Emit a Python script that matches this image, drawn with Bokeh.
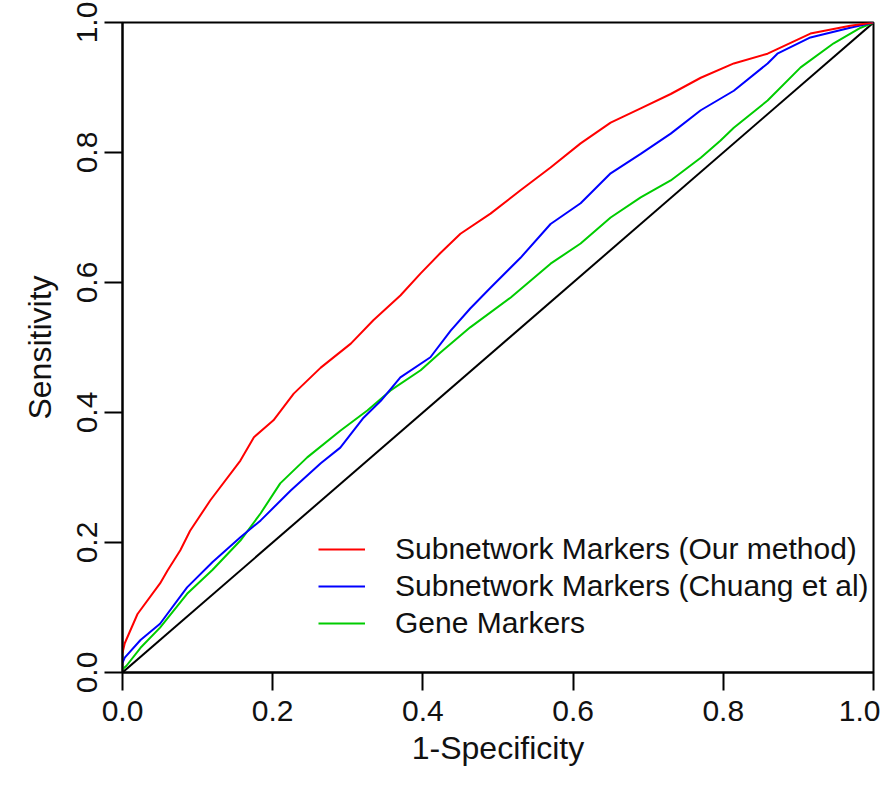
from bokeh.plotting import figure
from bokeh.models import Range1d, FixedTicker, PrintfTickFormatter, Legend, LegendItem
from bokeh.embed import file_html
from bokeh.resources import INLINE

# ROC curves (x = 1-Specificity, y = Sensitivity)
red_fpr = [0, 0.003, 0.02, 0.05, 0.06, 0.077, 0.09, 0.117, 0.157, 0.175, 0.201, 0.228, 0.264, 0.304,
           0.334, 0.37, 0.397, 0.423, 0.45, 0.49, 0.53, 0.57, 0.61, 0.65, 0.69, 0.73, 0.77, 0.814,
           0.859, 0.916, 0.969, 1.0]
red_tpr = [0.03, 0.045, 0.09, 0.137, 0.157, 0.188, 0.218, 0.265, 0.326, 0.362, 0.388, 0.429, 0.469,
           0.506, 0.542, 0.58, 0.614, 0.645, 0.675, 0.706, 0.742, 0.777, 0.814, 0.846, 0.868, 0.89,
           0.915, 0.937, 0.952, 0.983, 0.995, 1.0]

blue_fpr = [0, 0.003, 0.024, 0.05, 0.086, 0.12, 0.157, 0.184, 0.224, 0.264, 0.29, 0.321, 0.344, 0.37,
            0.41, 0.437, 0.463, 0.49, 0.53, 0.57, 0.61, 0.65, 0.69, 0.73, 0.77, 0.814, 0.859, 0.872,
            0.916, 0.969, 1.0]
blue_tpr = [0.015, 0.023, 0.05, 0.075, 0.131, 0.17, 0.208, 0.234, 0.28, 0.322, 0.346, 0.392, 0.418,
            0.454, 0.485, 0.526, 0.56, 0.592, 0.638, 0.69, 0.722, 0.768, 0.798, 0.829, 0.865, 0.895,
            0.937, 0.952, 0.977, 0.992, 1.0]

green_fpr = [0, 0.005, 0.024, 0.05, 0.086, 0.12, 0.157, 0.184, 0.21, 0.246, 0.29, 0.326, 0.357, 0.397,
             0.423, 0.463, 0.517, 0.57, 0.61, 0.65, 0.69, 0.73, 0.77, 0.796, 0.814, 0.859, 0.903,
             0.947, 0.983, 1.0]
green_tpr = [0.005, 0.01, 0.038, 0.069, 0.121, 0.158, 0.203, 0.245, 0.291, 0.331, 0.372, 0.403, 0.434,
             0.465, 0.492, 0.531, 0.577, 0.629, 0.66, 0.70, 0.731, 0.757, 0.792, 0.818, 0.838, 0.88,
             0.931, 0.968, 0.992, 1.0]

diag_x = [0, 1]
diag_y = [0, 1]

labels = ["Subnetwork Markers (Our method)", "Subnetwork Markers (Chuang et al)", "Gene Markers"]
ticks = [0, 0.2, 0.4, 0.6, 0.8, 1.0]

FONT = "Liberation Sans"
FS = "30px"

p = figure(width=880, height=781, output_backend="svg", toolbar_location=None,
           x_range=Range1d(0, 1), y_range=Range1d(0, 1),
           min_border_left=122, min_border_right=7, min_border_top=22, min_border_bottom=109)
p.grid.visible = False
p.outline_line_color = "black"
p.outline_line_width = 2

for ax in (p.xaxis[0], p.yaxis[0]):
    ax.ticker = FixedTicker(ticks=ticks)
    ax.formatter = PrintfTickFormatter(format="%.1f")
    ax.axis_line_width = 2
    ax.major_tick_line_width = 2
    ax.major_tick_line_color = "black"
    ax.major_tick_out = 18
    ax.major_tick_in = 0
    ax.major_label_text_font = FONT
    ax.major_label_text_font_size = FS
    ax.major_label_text_color = "#111111"
    ax.axis_label_text_font = FONT
    ax.axis_label_text_font_size = "32px"
    ax.axis_label_text_font_style = "normal"
    ax.axis_label_text_color = "#111111"

p.xaxis[0].axis_label = "1-Specificity"
p.yaxis[0].axis_label = "Sensitivity"
p.xaxis[0].major_label_standoff = 10
p.yaxis[0].major_label_standoff = 8
p.yaxis[0].major_label_orientation = "vertical"
p.xaxis[0].axis_label_standoff = 6
p.yaxis[0].axis_label_standoff = 16

p.line(diag_x, diag_y, line_color="black", line_width=2)
r_green = p.line(green_fpr, green_tpr, line_color="#00CC00", line_width=2)
r_blue = p.line(blue_fpr, blue_tpr, line_color="#0000FF", line_width=2)
r_red = p.line(red_fpr, red_tpr, line_color="#FF0000", line_width=2)

legend = Legend(items=[LegendItem(label=labels[0], renderers=[r_red]),
                       LegendItem(label=labels[1], renderers=[r_blue]),
                       LegendItem(label=labels[2], renderers=[r_green])],
                location=(196, 32))
legend.border_line_color = None
legend.background_fill_alpha = 0
legend.padding = 0
legend.margin = 0
legend.spacing = 3
legend.glyph_width = 47
legend.glyph_height = 30
legend.label_standoff = 30
legend.label_height = 30
legend.label_text_font = FONT
legend.label_text_font_size = FS
legend.label_text_color = "#111111"
p.add_layout(legend, "center")

open("out.html", "w").write(file_html(p, INLINE))
